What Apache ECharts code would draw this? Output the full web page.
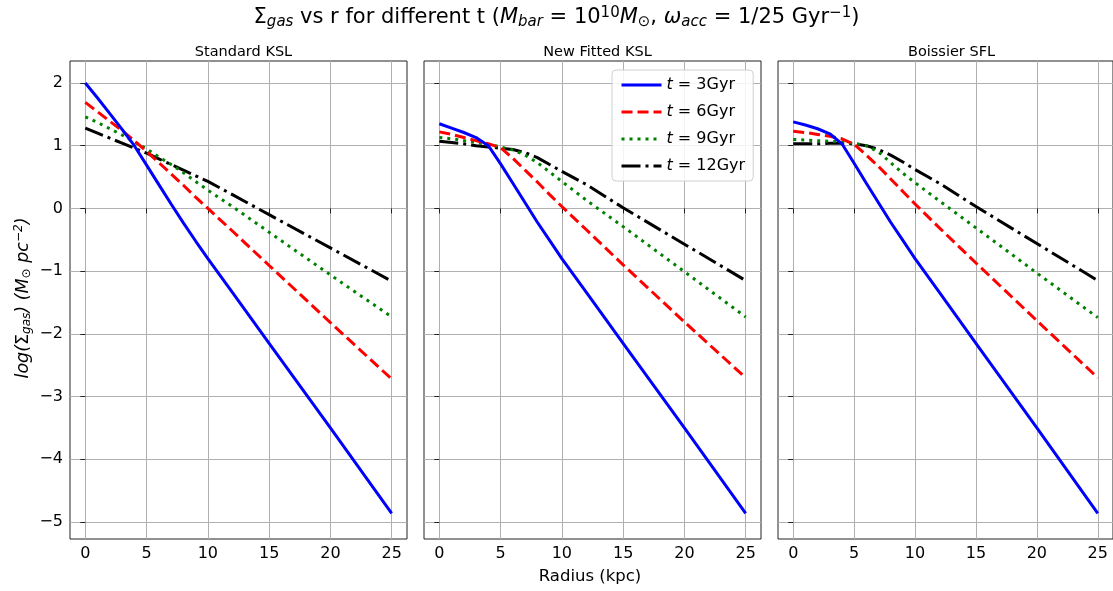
<!DOCTYPE html>
<html>
<head>
<meta charset="utf-8">
<script src="https://cdn.jsdelivr.net/npm/echarts@6/dist/echarts.min.js"></script>
<style>
html,body{margin:0;padding:0;background:#fff;}
#chart{width:1113px;height:591px;}
</style>
</head>
<body>
<div id="chart"></div>
<script>
// ---- data ----
const radius = [0, 1, 2, 3, 4, 5, 6, 7, 8, 9, 10, 12, 15, 20, 25];
const panelTitles = ['Standard KSL', 'New Fitted KSL', 'Boissier SFL'];
const seriesNames = ['t = 3Gyr', 't = 6Gyr', 't = 9Gyr', 't = 12Gyr'];
const xTicks = [0, 5, 10, 15, 20, 25];
const yTicks = [-5, -4, -3, -2, -1, 0, 1, 2];

// Standard KSL
const ksl_t3  = [2.00, 1.76, 1.51, 1.26, 1.00, 0.69, 0.38, 0.07, -0.23, -0.52, -0.80, -1.34, -2.15, -3.50, -4.86];
const ksl_t6  = [1.69, 1.54, 1.39, 1.24, 1.08, 0.91, 0.73, 0.55, 0.37, 0.18, 0.00, -0.36, -0.91, -1.82, -2.72];
const ksl_t9  = [1.46, 1.37, 1.27, 1.17, 1.06, 0.95, 0.82, 0.70, 0.57, 0.43, 0.29, 0.03, -0.38, -1.06, -1.73];
const ksl_t12 = [1.28, 1.20, 1.12, 1.04, 0.96, 0.88, 0.79, 0.70, 0.61, 0.52, 0.43, 0.22, -0.10, -0.63, -1.16];
// New Fitted KSL
const fit_t3  = [1.35, 1.28, 1.21, 1.13, 1.00, 0.71, 0.40, 0.09, -0.22, -0.51, -0.80, -1.34, -2.15, -3.50, -4.86];
const fit_t6  = [1.22, 1.18, 1.13, 1.08, 1.03, 0.97, 0.80, 0.61, 0.42, 0.22, 0.03, -0.34, -0.90, -1.81, -2.70];
const fit_t9  = [1.13, 1.11, 1.08, 1.05, 1.02, 0.98, 0.93, 0.85, 0.73, 0.58, 0.43, 0.13, -0.29, -1.01, -1.73];
const fit_t12 = [1.07, 1.05, 1.03, 1.00, 0.98, 0.96, 0.94, 0.89, 0.81, 0.70, 0.59, 0.38, 0.01, -0.57, -1.15];
// Boissier SFL
const bsf_t3  = [1.38, 1.33, 1.27, 1.19, 1.03, 0.72, 0.40, 0.09, -0.22, -0.51, -0.80, -1.34, -2.15, -3.50, -4.86];
const bsf_t6  = [1.23, 1.21, 1.18, 1.15, 1.11, 1.02, 0.85, 0.67, 0.47, 0.27, 0.07, -0.31, -0.87, -1.79, -2.70];
const bsf_t9  = [1.10, 1.09, 1.08, 1.07, 1.06, 1.04, 1.00, 0.90, 0.73, 0.56, 0.41, 0.12, -0.31, -1.03, -1.74];
const bsf_t12 = [1.03, 1.03, 1.03, 1.04, 1.04, 1.03, 1.00, 0.94, 0.85, 0.74, 0.62, 0.40, 0.03, -0.56, -1.15];

const panels = [
  [ksl_t3, ksl_t6, ksl_t9, ksl_t12],
  [fit_t3, fit_t6, fit_t9, fit_t12],
  [bsf_t3, bsf_t6, bsf_t9, bsf_t12]
];

// ---- styles ----
const lineStyles = [
  {color: '#0000ff', type: 'solid'},
  {color: '#ff0000', type: [11, 5]},
  {color: '#008000', type: [3, 5]},
  {color: '#000000', type: [19, 5, 3, 5]}
];
const FONT = 'DejaVu Sans';
const gridLefts = [70, 424, 778];
const gridW = 337, gridTop = 61, gridH = 478;

const fmtMinus = v => String(v).replace('-', '\u2212');

const grids = [], xAxes = [], yAxes = [], series = [];
panels.forEach((panel, p) => {
  grids.push({left: gridLefts[p], top: gridTop, width: gridW, height: gridH,
    show: true, borderColor: '#222', borderWidth: 1, backgroundColor: 'transparent'});
  xAxes.push({
    type: 'value', gridIndex: p, min: -1.25, max: 26.25, splitNumber: 6,
    axisLine: {show: false},
    axisTick: {show: true, length: 5, customValues: xTicks, lineStyle: {color: '#222'}},
    axisLabel: {show: true, customValues: xTicks, fontSize: 16, color: '#000', fontFamily: FONT, margin: 7, formatter: fmtMinus},
    splitLine: {show: true, lineStyle: {color: '#b0b0b0', width: 1}}
  });
  yAxes.push({
    type: 'value', gridIndex: p, min: -5.27, max: 2.35, splitNumber: 8,
    axisLine: {show: false},
    axisTick: {show: true, length: 5, customValues: yTicks, lineStyle: {color: '#222'}},
    axisLabel: {show: p === 0, customValues: yTicks, fontSize: 16, color: '#000', fontFamily: FONT, margin: 7, formatter: fmtMinus},
    splitLine: {show: true, lineStyle: {color: '#b0b0b0', width: 1}}
  });
  panel.forEach((vals, s) => {
    series.push({
      type: 'line', name: seriesNames[s], xAxisIndex: p, yAxisIndex: p,
      data: radius.map((r, i) => [r, vals[i]]),
      showSymbol: false, symbol: 'none', smooth: false,
      lineStyle: {color: lineStyles[s].color, type: lineStyles[s].type, width: 3, cap: 'butt'},
      itemStyle: {color: lineStyles[s].color},
      z: 10 - s, animation: false
    });
  });
});

const chart = echarts.init(document.getElementById('chart'), null, {renderer: 'canvas'});
chart.setOption({
  animation: false,
  backgroundColor: '#fff',
  textStyle: {fontFamily: FONT},
  grid: grids, xAxis: xAxes, yAxis: yAxes, series: series,
  title: [
    {
      text: '\u03A3{isub|gas} vs r for different t ({i|M}{isub|bar} = 10{sup|10}{i|M}{sub|\u2299}, {i|\u03C9}{isub|acc} = 1/25 Gyr{sup|\u22121})',
      left: 'center', top: 1,
      textStyle: {fontSize: 21, fontWeight: 'normal', color: '#000', fontFamily: FONT,
        rich: {
          i: {fontSize: 21, fontStyle: 'italic', fontFamily: FONT},
          sub: {fontSize: 15, fontFamily: FONT, padding: [9, 0, 0, 0]},
          isub: {fontSize: 15, fontStyle: 'italic', fontFamily: FONT, padding: [9, 0, 0, 0]},
          sup: {fontSize: 15, fontFamily: FONT, padding: [0, 0, 9, 0]}
        }}
    },
    ...panelTitles.map((t, p) => ({
      text: t, left: gridLefts[p] + gridW / 2, top: 40, textAlign: 'center',
      textStyle: {fontSize: 14.5, fontWeight: 'normal', color: '#000', fontFamily: FONT}
    }))
  ],
  legend: {
    data: seriesNames,
    orient: 'vertical', left: 612, top: 70,
    padding: [7, 8, 7, 8], itemGap: 11, itemWidth: 40, itemHeight: 14,
    backgroundColor: 'rgba(255,255,255,0.85)', borderColor: '#d0d0d0', borderWidth: 1, borderRadius: 4,
    itemStyle: {opacity: 0},
    lineStyle: {width: 3, opacity: 1},
    formatter: name => '{i|t} ' + name.slice(2),
    textStyle: {fontSize: 16, color: '#000', fontFamily: FONT,
      rich: {i: {fontSize: 16, fontStyle: 'italic', fontFamily: FONT}}},
    selectedMode: false
  },
  graphic: [
    {
      type: 'text', x: 23, y: 298, rotation: Math.PI / 2,
      style: {
        text: '{i|log(}\u03A3{isub|gas}{i|) (M}{sub|\u2299}{i| pc}{sup|\u22122}{i|)}',
        fontSize: 17.5, fontFamily: FONT, fill: '#000', align: 'center', verticalAlign: 'middle',
        rich: {
          i: {fontSize: 17.5, fontStyle: 'italic', fontFamily: FONT},
          isub: {fontSize: 12, fontStyle: 'italic', fontFamily: FONT, padding: [8, 0, 0, 0]},
          sub: {fontSize: 12, fontFamily: FONT, padding: [8, 0, 0, 0]},
          sup: {fontSize: 12, fontStyle: 'italic', fontFamily: FONT, padding: [0, 0, 8, 0]}
        }
      }
    },
    {
      type: 'text', x: 590, y: 577,
      style: {text: 'Radius (kpc)', fontSize: 16.5, fontFamily: FONT, fill: '#000', align: 'center', verticalAlign: 'middle'}
    }
  ]
});
</script>
</body>
</html>
